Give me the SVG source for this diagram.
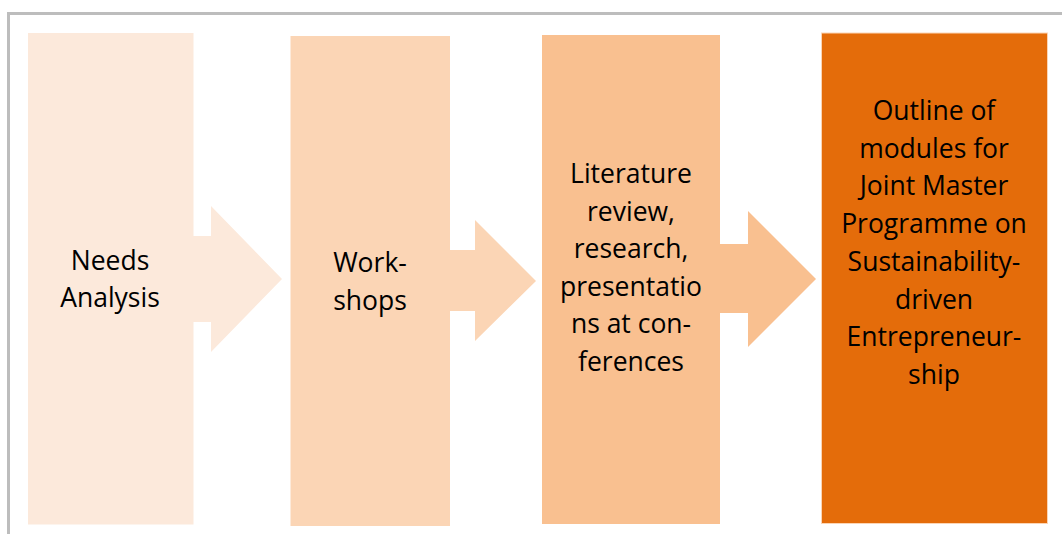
<svg xmlns="http://www.w3.org/2000/svg" width="1062" height="534" viewBox="0 0 1062 534">
  <style>
    .lbl { font-family: "Open Sans", "Liberation Sans", sans-serif; font-size: 26.5px; fill: #000; text-anchor: middle; }
  </style>
  <rect width="1062" height="534" fill="#fff"/>
  <!-- frame -->
  <path d="M8.5 534 V13.5 H1062" fill="none" stroke="#bdbdbd" stroke-width="3"/>

  <g id="connectors">
    <polygon points="193,236 211,236 211,206 282,279 211,352 211,322 193,322" fill="#fce9db"/>
    <polygon points="450,250 475,250 475,220 536,281 475,341 475,311 450,311" fill="#fbd5b5"/>
    <polygon points="720,244 748,244 748,211 816,279 748,347 748,313 720,313" fill="#f9c090"/>
  </g>

  <g id="needs-analysis">
    <rect x="28" y="33" width="165.5" height="491.5" fill="#fce9db"/>
    <text class="lbl" x="110" y="270">Needs</text>
    <text class="lbl" x="110" y="307">Analysis</text>
  </g>

  <g id="workshops">
    <rect x="290.5" y="36" width="159.5" height="490" fill="#fbd5b5"/>
    <text class="lbl" x="370" y="272">Work-</text>
    <text class="lbl" x="370" y="310">shops</text>
  </g>

  <g id="literature-review">
    <rect x="542" y="35" width="178" height="489" fill="#f9c090"/>
    <text class="lbl" x="631" y="183">Literature</text>
    <text class="lbl" x="631" y="220.5">review,</text>
    <text class="lbl" x="631" y="258">research,</text>
    <text class="lbl" x="631" y="296">presentatio</text>
    <text class="lbl" x="631" y="333">ns at con-</text>
    <text class="lbl" x="631" y="371">ferences</text>
  </g>

  <g id="module-outline">
    <rect x="821.5" y="33" width="226" height="490.5" fill="#e46c0a" stroke="#fbd5b5" stroke-width="1"/>
    <text class="lbl" x="934" y="120">Outline of</text>
    <text class="lbl" x="934" y="157.7">modules for</text>
    <text class="lbl" x="934" y="195.4">Joint Master</text>
    <text class="lbl" x="934" y="233">Programme on</text>
    <text class="lbl" x="934" y="270.8">Sustainability-</text>
    <text class="lbl" x="934" y="308.5">driven</text>
    <text class="lbl" x="934" y="346">Entrepreneur-</text>
    <text class="lbl" x="934" y="384">ship</text>
  </g>
</svg>
